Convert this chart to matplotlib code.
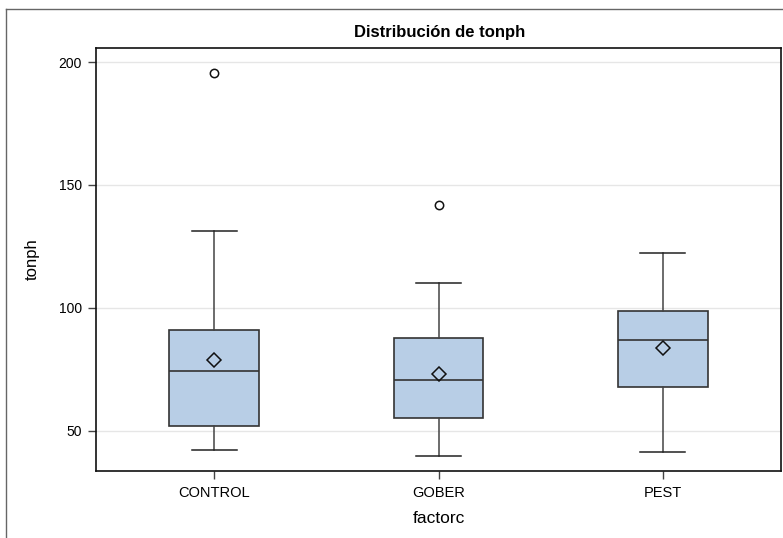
import matplotlib
matplotlib.use('Agg')
import matplotlib.pyplot as plt
from matplotlib.lines import Line2D

plt.rcParams['font.family'] = ['Liberation Sans', 'DejaVu Sans']

# datos
grupos = ['CONTROL', 'GOBER', 'PEST']
q1 = [52.0, 55.3, 67.9]
mediana = [74.5, 70.7, 87.0]
q3 = [91.2, 87.7, 98.9]
bigote_inf = [42.1, 39.6, 41.3]
bigote_sup = [131.2, 110.0, 122.4]
media = [78.9, 73.0, 83.6]
atipicos = [[195.5], [141.9], []]

relleno = '#b8cee6'
borde = '#333333'

stats = []
for i, g in enumerate(grupos):
    stats.append({'label': g, 'q1': q1[i], 'med': mediana[i], 'q3': q3[i],
                  'whislo': bigote_inf[i], 'whishi': bigote_sup[i],
                  'mean': media[i], 'fliers': atipicos[i]})

fig = plt.figure(figsize=(7.83, 5.38), dpi=100)
ax = fig.add_axes([96 / 783, 1 - 471 / 538, (781 - 96) / 783, (471 - 48) / 538])

ax.bxp(stats, positions=range(len(grupos)), widths=0.4, patch_artist=True,
       showmeans=True, showfliers=True,
       boxprops={'facecolor': relleno, 'edgecolor': borde, 'linewidth': 1.2},
       medianprops={'color': borde, 'linewidth': 1.2},
       whiskerprops={'color': '#444444', 'linewidth': 1.1},
       capprops={'color': '#222222', 'linewidth': 1.1},
       meanprops={'marker': 'D', 'markerfacecolor': 'none', 'markeredgecolor': '#111111',
                  'markersize': 7, 'markeredgewidth': 1.1},
       flierprops={'marker': 'o', 'markerfacecolor': 'none', 'markeredgecolor': '#111111',
                   'markersize': 6, 'markeredgewidth': 1.1},
       zorder=3)

ax.set_xlim(-0.526, 2.526)
ax.set_ylim(33.7, 205.7)
ax.set_yticks([50, 100, 150, 200])
ax.set_xticks(range(len(grupos)))
ax.set_xticklabels(grupos)
ax.yaxis.grid(True, color='#e6e6e6', linewidth=1)
ax.set_axisbelow(True)
ax.tick_params(axis='y', labelsize=10, length=6, width=1, color='#444444', pad=4)
ax.tick_params(axis='x', labelsize=10.5, length=6, width=1, color='#444444', pad=5)

for s in ax.spines.values():
    s.set_color('#111111')
    s.set_linewidth(1.2)

ax.set_xlabel('factorc', fontsize=12.5, labelpad=8)
ax.set_ylabel('tonph', fontsize=12, labelpad=14)
fig.text(440 / 783, 1 - 33 / 538, 'Distribución de tonph', ha='center', va='center',
         fontsize=12, fontweight='bold')

# marco exterior recortado
fig.add_artist(Line2D([6 / 783, 1], [1 - 9 / 538, 1 - 9 / 538], color='#666666', linewidth=1))
fig.add_artist(Line2D([6 / 783, 6 / 783], [0, 1 - 9 / 538], color='#666666', linewidth=1))

fig.savefig('out.png', dpi=100)
